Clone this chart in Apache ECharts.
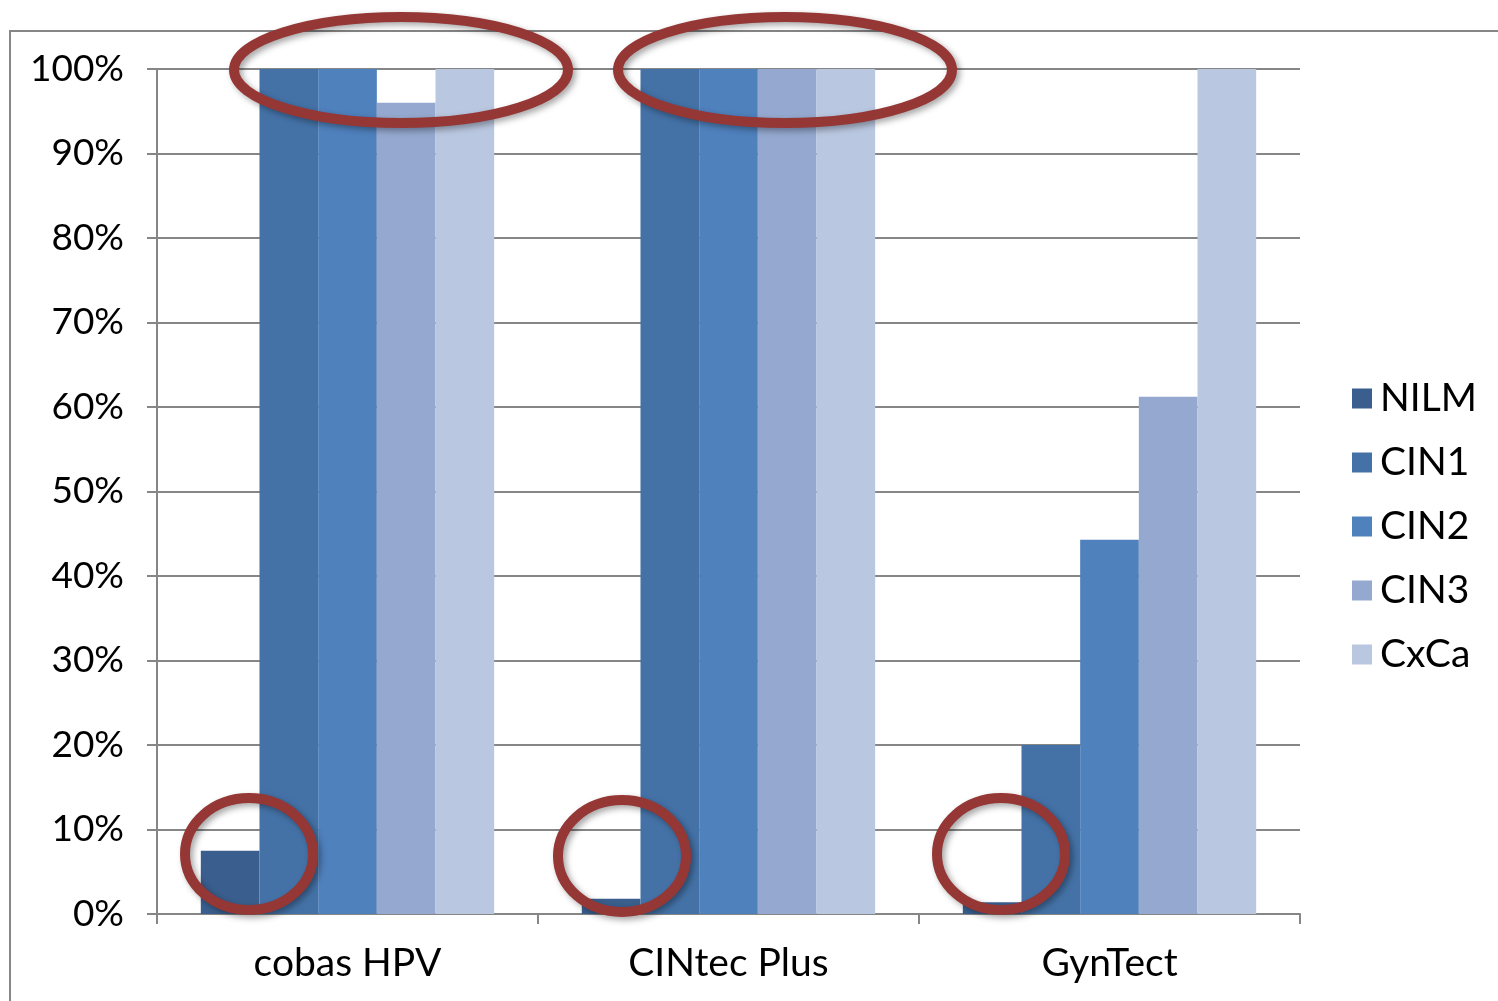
<!DOCTYPE html>
<html>
<head>
<meta charset="utf-8">
<script src="https://cdn.jsdelivr.net/npm/echarts@6/dist/echarts.min.js"></script>
<style>html,body{margin:0;padding:0;background:#fff}#c{width:1498px;height:1001px}</style>
</head>
<body>
<div id="c"></div>
<script>
const categories = ['cobas HPV', 'CINtec Plus', 'GynTect'];
const seriesNames = ['NILM', 'CIN1', 'CIN2', 'CIN3', 'CxCa'];
const nilm = [7.5, 1.8, 1.4];
const cin1 = [100, 100, 20];
const cin2 = [100, 100, 44.3];
const cin3 = [96, 100, 61.2];
const cxca = [100, 100, 100];
const yTicks = [0, 10, 20, 30, 40, 50, 60, 70, 80, 90, 100];

const colors = ['#3A5F8E', '#4472A7', '#4F81BD', '#95A9D0', '#BAC7E0'];
const values = [nilm, cin1, cin2, cin3, cxca];
const FONT = 'Lato, "Open Sans", sans-serif';

const chart = echarts.init(document.getElementById('c'));
const ring = (cx, cy, rx, ry) => ({
  type: 'ellipse', shape: { cx, cy, rx, ry }, z: 100,
  style: { fill: 'none', stroke: '#953735', lineWidth: 10,
    shadowBlur: 6, shadowColor: 'rgba(0,0,0,0.35)', shadowOffsetX: 3, shadowOffsetY: 3 }
});
chart.setOption({
  animation: false,
  backgroundColor: '#fff',
  grid: { left: 157, right: 198, top: 69, bottom: 87, containLabel: false },
  legend: {
    orient: 'vertical', left: 1347, top: 374,
    itemWidth: 20, itemHeight: 20, itemGap: 25,
    icon: 'rect',
    data: seriesNames,
    textStyle: { fontSize: 39, fontFamily: FONT, color: '#000', padding: [0, 0, 0, 3] }
  },
  xAxis: {
    type: 'category', data: categories,
    axisLine: { lineStyle: { color: '#868686', width: 2 } },
    axisTick: { show: true, length: 10, lineStyle: { color: '#868686', width: 2 } },
    axisLabel: { fontSize: 39, fontFamily: FONT, color: '#000', margin: 30 }
  },
  yAxis: {
    type: 'value', min: 0, max: 100, interval: 10,
    axisLine: { show: true, lineStyle: { color: '#868686', width: 2 } },
    axisTick: { show: true, length: 10, lineStyle: { color: '#868686', width: 2 } },
    splitLine: { lineStyle: { color: '#868686', width: 2 } },
    axisLabel: { fontSize: 37, fontFamily: FONT, color: '#000', margin: 33,
      formatter: v => yTicks.includes(v) ? v + '%' : '' }
  },
  series: seriesNames.map((name, i) => ({
    name, type: 'bar', data: values[i],
    barGap: '0%', barCategoryGap: '23%',
    itemStyle: { color: colors[i] }
  })),
  graphic: [
    { type: 'rect', shape: { x: 10, y: 31, width: 1600, height: 1100 }, z: -10, silent: true,
      style: { fill: 'none', stroke: '#868686', lineWidth: 2 } },
    ring(401, 70, 167, 53),
    ring(785, 70, 167, 53),
    ring(249, 854, 64, 56),
    ring(622, 856, 64, 56),
    ring(1001, 854, 64, 56)
  ]
});
</script>
</body>
</html>
